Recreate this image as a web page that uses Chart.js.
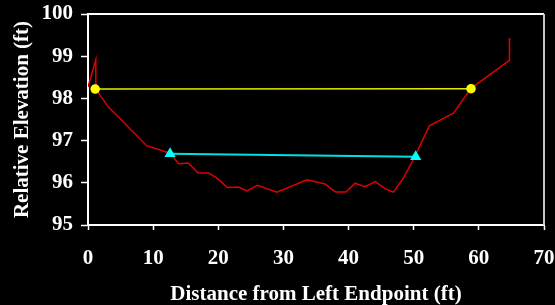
<!DOCTYPE html>
<html>
<head>
<meta charset="utf-8">
<script src="https://cdn.jsdelivr.net/npm/chart.js@4"></script>
<style>
  html, body { margin: 0; padding: 0; background: #000000; }
  #chartBox { width: 555px; height: 305px; }
</style>
</head>
<body>
<div id="chartBox"><canvas id="myChart" width="555" height="305"></canvas></div>
<script>
// ground profile across the channel
const profileX = [0, 1.2, 1.2, 3.1, 9.0, 12.6, 13.9, 15.4, 16.9, 18.5, 19.8, 21.4, 23.1, 24.4, 26.0, 29.0, 33.6, 36.4, 38.0, 39.6, 41.0, 42.5, 44.1, 45.6, 46.9, 48.4, 49.9, 52.4, 56.1, 58.8, 64.7, 64.7];
const profileY = [98.27, 98.92, 98.22, 97.80, 96.88, 96.70, 96.45, 96.47, 96.23, 96.23, 96.11, 95.89, 95.90, 95.81, 95.94, 95.78, 96.07, 95.97, 95.78, 95.78, 95.99, 95.91, 96.03, 95.86, 95.78, 96.11, 96.54, 97.35, 97.65, 98.24, 98.90, 99.43];

// bankfull level (yellow) and water surface (cyan)
const bankfullX = [1.1, 58.8];
const bankfullY = [98.22, 98.23];
const waterX = [12.6, 50.3];
const waterY = [96.69, 96.62];

const xTicks = [0, 10, 20, 30, 40, 50, 60, 70];
const yTicks = [95, 96, 97, 98, 99, 100];

const xTitle = 'Distance from Left Endpoint (ft)';
const yTitle = 'Relative Elevation (ft)';

const pts = (xs, ys) => xs.map((x, i) => ({ x: x, y: ys[i] }));

const serif = { family: '"Liberation Serif", "Times New Roman", serif', weight: 'bold', size: 21 };

// top and right edges of the plot box
const plotFrame = {
    id: 'plotFrame',
    afterDraw(chart) {
        const { ctx, chartArea: a } = chart;
        ctx.save();
        ctx.lineWidth = 2;
        ctx.strokeStyle = '#ffffff';
        ctx.beginPath();
        ctx.moveTo(a.left, a.top);
        ctx.lineTo(a.right, a.top);
        ctx.stroke();
        ctx.strokeStyle = '#c8c8c8';
        ctx.beginPath();
        ctx.moveTo(a.right, a.top);
        ctx.lineTo(a.right, a.bottom);
        ctx.stroke();
        ctx.restore();
    }
};

const data = {
    datasets: [
        {
            label: 'Profile',
            data: pts(profileX, profileY),
            showLine: true,
            borderColor: '#dd0000',
            borderWidth: 1.5,
            pointRadius: 0,
            order: 3
        },
        {
            label: 'Bankfull',
            data: pts(bankfullX, bankfullY),
            showLine: true,
            borderColor: '#e8e800',
            borderWidth: 1.5,
            pointStyle: 'circle',
            pointRadius: 4,
            pointBackgroundColor: '#ffff00',
            pointBorderColor: '#ffff00',
            order: 1
        },
        {
            label: 'Water',
            data: pts(waterX, waterY),
            showLine: true,
            borderColor: '#00e0e0',
            borderWidth: 2,
            pointStyle: 'triangle',
            pointRadius: 4.5,
            pointBackgroundColor: '#00ffff',
            pointBorderColor: '#00ffff',
            order: 2
        }
    ]
};

const config = {
    type: 'scatter',
    data,
    options: {
        responsive: false,
        animation: false,
        devicePixelRatio: 1,
        layout: { padding: { left: 0, right: 11, top: 14, bottom: 0 } },
        scales: {
            x: {
                type: 'linear',
                min: xTicks[0],
                max: xTicks[xTicks.length - 1],
                afterBuildTicks: (s) => { s.ticks = xTicks.map(v => ({ value: v })); },
                afterFit: (s) => { s.height = 80; s.paddingLeft = 0; s.paddingRight = 0; },
                grid: { drawOnChartArea: false, color: '#ffffff', tickLength: 5, tickWidth: 1.5 },
                border: { color: '#ffffff', width: 2 },
                ticks: { color: '#ffffff', font: serif, padding: 16, maxRotation: 0 },
                title: { display: true, text: xTitle, color: '#ffffff', font: { ...serif, lineHeight: 1 }, padding: { top: 0, bottom: 0 } }
            },
            y: {
                type: 'linear',
                min: yTicks[0],
                max: yTicks[yTicks.length - 1],
                afterBuildTicks: (s) => { s.ticks = yTicks.map(v => ({ value: v })); },
                afterFit: (s) => { s.width = 88; s.paddingTop = 0; s.paddingBottom = 0; },
                grid: { drawOnChartArea: false, color: '#ffffff', tickLength: 7, tickWidth: 1.5 },
                border: { color: '#ffffff', width: 2 },
                ticks: { color: '#ffffff', font: serif, padding: 8 },
                title: { display: true, text: yTitle, color: '#ffffff', font: { ...serif, lineHeight: 1 }, padding: { top: 12, bottom: 0 } }
            }
        },
        plugins: {
            legend: { display: false },
            tooltip: { enabled: false }
        }
    },
    plugins: [plotFrame]
};

const myChart = new Chart(document.getElementById('myChart'), config);
</script>
</body>
</html>
